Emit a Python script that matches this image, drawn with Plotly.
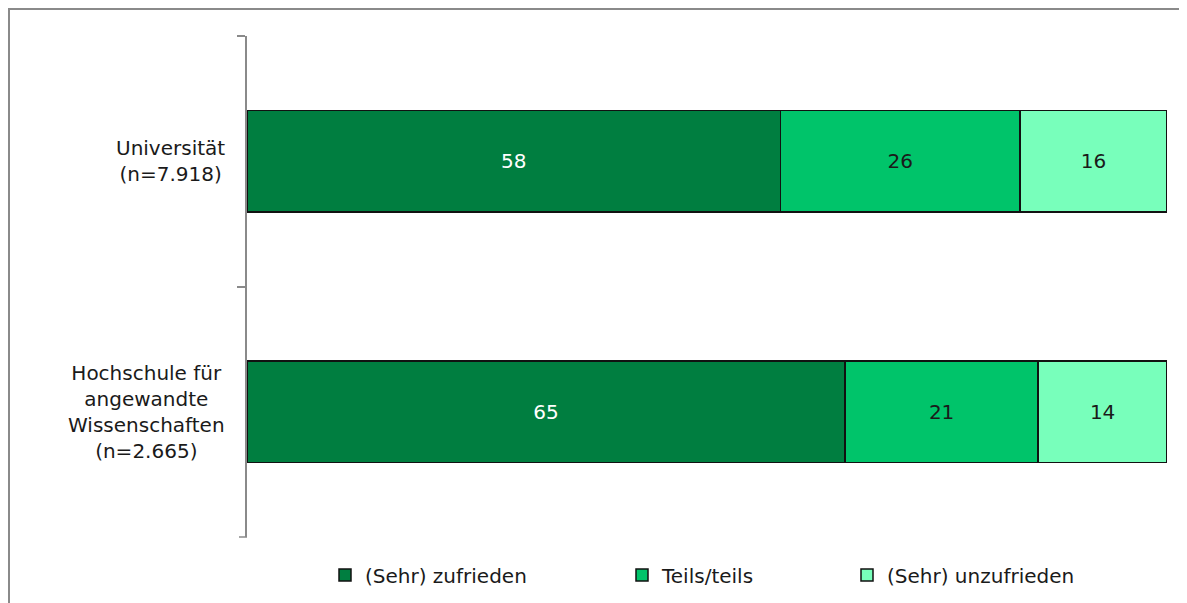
import plotly.graph_objects as go

categories = ["Universität", "Hochschule für angewandte Wissenschaften"]
cat_labels = ["Universität<br>(n=7.918)", "Hochschule für<br>angewandte<br>Wissenschaften<br>(n=2.665)"]
series_names = ["(Sehr) zufrieden", "Teils/teils", "(Sehr) unzufrieden"]
zufrieden = [58, 65]
teils = [26, 21]
unzufrieden = [16, 14]

colors = ["#007E40", "#00C46A", "#78FFBB"]
text_colors = ["white", "#1a1a1a", "#1a1a1a"]
FONT = "DejaVu Sans"

W, H = 1179, 595
L, R, T, B = 239, 20, 28, 66
PW, PH = W - L - R, H - T - B

legend_ids = ["legend", "legend2", "legend3"]
legend_x = [78, 375, 600]

fig = go.Figure()
for name, vals, col, tc, lid in zip(series_names, [zufrieden, teils, unzufrieden], colors, text_colors, legend_ids):
    fig.add_trace(go.Bar(
        y=categories, x=vals, name=name, orientation="h", legend=lid,
        marker=dict(color=col, line=dict(color="#111111", width=1.5)),
        text=[str(v) for v in vals], textposition="inside", insidetextanchor="middle",
        textfont=dict(family=FONT, size=20, color=tc),
        hoverinfo="x+name",
    ))

for cat, lab in zip(categories, cat_labels):
    fig.add_annotation(
        x=0, xref="paper", y=cat, yref="y", text=lab, showarrow=False,
        xanchor="right", yanchor="middle", align="center", xshift=-20,
        font=dict(family=FONT, size=20, color="#1a1a1a"),
    )

# outer chart border
fig.add_shape(type="rect", xref="paper", yref="paper",
              x0=(1 - L) / PW, x1=(W + 20 - L) / PW,
              y0=-(B + 20) / PH, y1=1 + (T - 1) / PH,
              line=dict(color="#8a8a8a", width=2), fillcolor="rgba(0,0,0,0)", layer="below")
# closing tick at the bottom of the category axis
fig.add_shape(type="line", xref="paper", yref="paper",
              x0=-8 / PW, x1=0, y0=0, y1=0,
              line=dict(color="#8a8a8a", width=1.5))

legend_common = dict(orientation="h", xanchor="left", yref="container",
                     y=1 - (575 - 8) / H, yanchor="middle",
                     font=dict(family=FONT, size=20, color="#1a1a1a"),
                     bgcolor="rgba(0,0,0,0)")

fig.update_layout(
    barmode="stack",
    bargap=0.596,
    width=W, height=H,
    margin=dict(l=L, r=R, t=T, b=B, autoexpand=False),
    paper_bgcolor="white", plot_bgcolor="white",
    font=dict(family=FONT, size=20, color="#1a1a1a"),
    showlegend=True,
    legend=dict(x=legend_x[0] / PW, **legend_common),
    legend2=dict(x=legend_x[1] / PW, **legend_common),
    legend3=dict(x=legend_x[2] / PW, **legend_common),
    xaxis=dict(range=[0, 100], visible=False, fixedrange=True),
    yaxis=dict(categoryorder="array", categoryarray=categories, autorange="reversed",
               showticklabels=False, showline=True, linecolor="#8a8a8a", linewidth=1.5,
               ticks="outside", ticklen=8, tickcolor="#8a8a8a", tickwidth=1.5,
               tickson="boundaries", showgrid=False, zeroline=False),
)

fig.write_html("out.html")
